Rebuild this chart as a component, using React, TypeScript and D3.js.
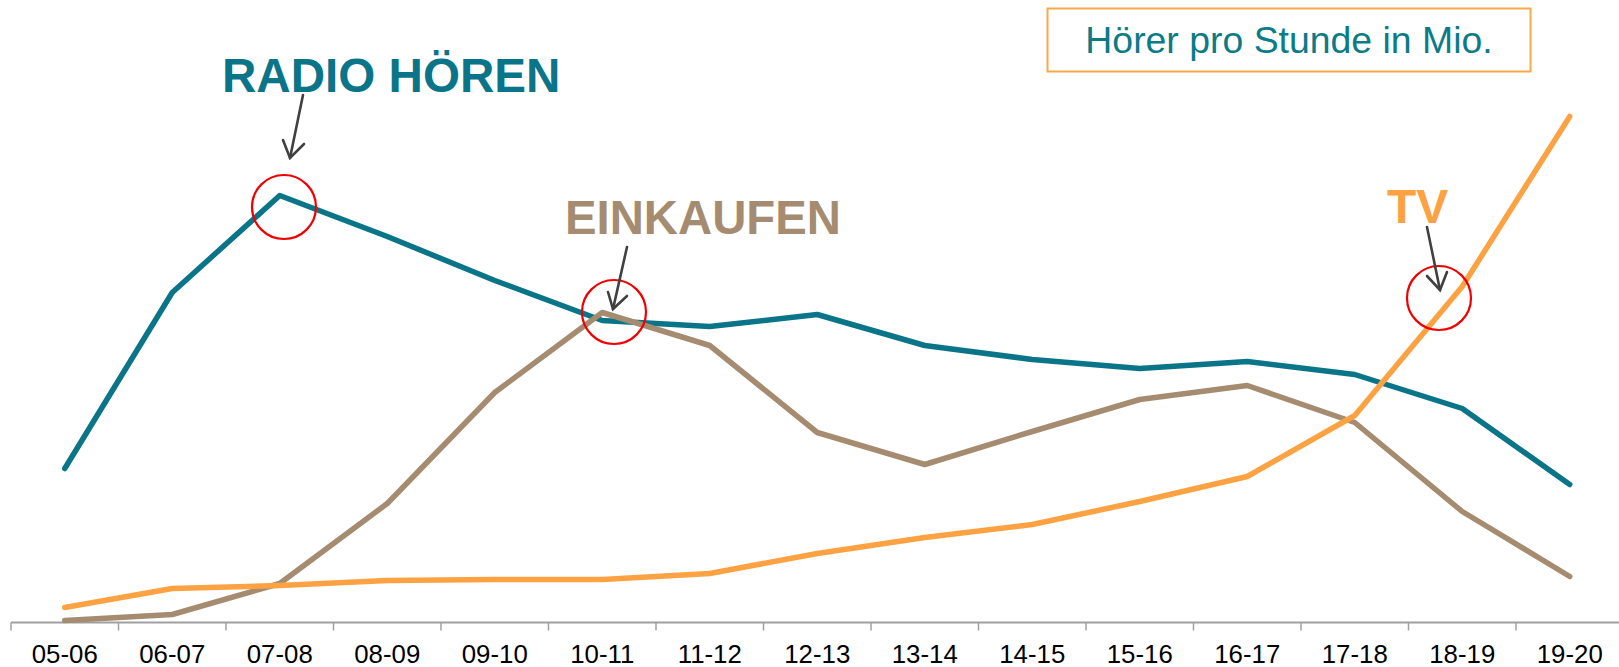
import React from "react";
import * as d3 from "d3";

const categories = ["05-06","06-07","07-08","08-09","09-10","10-11","11-12","12-13","13-14","14-15","15-16","16-17","17-18","18-19","19-20"];
const radio = [1.54,3.30,4.27,3.86,3.42,3.02,2.96,3.08,2.77,2.63,2.54,2.61,2.48,2.14,1.38];
const einkaufen = [0.02,0.08,0.39,1.19,2.30,3.10,2.77,1.90,1.58,1.91,2.23,2.37,2.00,1.11,0.46];
const tv = [0.15,0.34,0.37,0.42,0.43,0.43,0.49,0.69,0.85,0.98,1.21,1.46,2.07,3.36,5.06];

const W = 1619, H = 667;
const TEAL = "#0a7488", TAN = "#a58c70", ORANGE = "#fda243";

export default function App() {
  const x = d3.scaleBand<string>().domain(categories).range([11, 11 + 107.5 * categories.length]);
  const y = d3.scaleLinear().domain([0, 5]).range([622.5, 122.5]);
  const cx = (c: string) => (x(c) as number) + x.bandwidth() / 2;
  const line = d3.line<number>().x((_, i) => cx(categories[i])).y((v) => y(v));
  const series = [
    { name: "radio", data: radio, color: TEAL },
    { name: "einkaufen", data: einkaufen, color: TAN },
    { name: "tv", data: tv, color: ORANGE },
  ];
  const ticks = d3.range(categories.length + 1).map((i) => 11 + i * x.bandwidth());
  const font = "'Liberation Sans', Arial, sans-serif";
  const arrows = [
    { from: [303, 95], to: [290, 158], a: [283, 140], b: [304, 144] },
    { from: [627, 247], to: [613, 309], a: [608, 292], b: [627, 296] },
    { from: [1427, 227], to: [1440, 290], a: [1427, 276], b: [1447, 272] },
  ];
  const circles = [[284, 207], [614, 312], [1439, 298]];
  return (
    <svg width={W} height={H} style={{ position: "absolute", left: 0, top: 0, background: "#fff" }} fontFamily={font}>
      <line x1={11} x2={W + 10} y1={y(0)} y2={y(0)} stroke="#a0a0a0" strokeWidth={2} />
      {ticks.map((t, i) => (
        <line key={i} x1={t} x2={t} y1={y(0)} y2={y(0) + 8} stroke="#a0a0a0" strokeWidth={1.5} />
      ))}
      {categories.map((c) => (
        <text key={c} x={cx(c)} y={663} textAnchor="middle" fontSize={25.8} fill="#000">{c}</text>
      ))}
      {series.map((s) => (
        <path key={s.name} d={line(s.data) as string} fill="none" stroke={s.color} strokeWidth={5.5} strokeLinecap="round" strokeLinejoin="round" />
      ))}
      {circles.map(([a, b], i) => (
        <circle key={i} cx={a} cy={b} r={32} fill="none" stroke="#f00000" strokeWidth={2.2} />
      ))}
      {arrows.map((ar, i) => (
        <g key={i} stroke="#404040" strokeWidth={2.6} fill="none" strokeLinecap="round">
          <line x1={ar.from[0]} y1={ar.from[1]} x2={ar.to[0]} y2={ar.to[1]} />
          <polyline points={`${ar.a[0]},${ar.a[1]} ${ar.to[0]},${ar.to[1]} ${ar.b[0]},${ar.b[1]}`} />
        </g>
      ))}
      <text x={222} y={91.5} fontSize={47.6} fontWeight="bold" fill={TEAL}>RADIO HÖREN</text>
      <text x={565} y={234} fontSize={47.3} fontWeight="bold" fill={TAN}>EINKAUFEN</text>
      <text x={1387} y={223} fontSize={48} fontWeight="bold" fill={ORANGE}>TV</text>
      <rect x={1047.5} y={8.5} width={483} height={63} fill="#fff" stroke="#f9a94b" strokeWidth={2} />
      <text x={1289} y={53.3} textAnchor="middle" fontSize={37.4} fill="#0b7b86">Hörer pro Stunde in Mio.</text>
    </svg>
  );
}
